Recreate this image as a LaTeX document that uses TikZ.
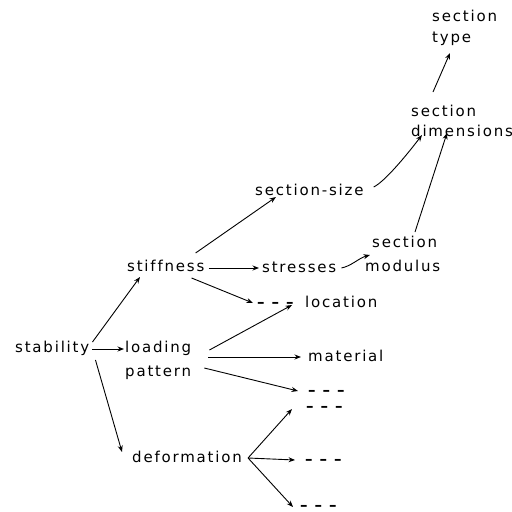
\documentclass[tikz,border=0pt]{standalone}
\usepackage{fontspec}
\setmainfont{DejaVu Sans}[LetterSpace=12,Ligatures=CommonOff]
\usetikzlibrary{arrows.meta,calc}
\begin{document}
\begin{tikzpicture}[x=1pt,y=-1pt,
  lbl/.style={anchor=west,inner sep=0pt,text height=8pt,text depth=0pt,font=\fontsize{15}{18}\selectfont},
  dsh/.style={lbl,font=\fontsize{15}{18}\selectfont\bfseries},
  arr/.style={-{Stealth[length=6.5pt,width=5pt]},line width=0.9pt}]
\useasboundingbox (0,0) rectangle (512,512);
% nodes
\node[lbl] (stab)     at (15,348)  {stability};
\node[lbl] (stiff)    at (127,267) {stiffness};
\node[lbl] (loadA)    at (125,348) {loading};
\node[lbl] (loadB)    at (125,372) {pattern};
\node[lbl] (deform)   at (132,458) {deformation};
\node[lbl] (secsize)  at (255,191) {section-size};
\node[lbl] (stress)   at (262,268) {stresses};
\node[dsh] (dashL)    at (257,303) {– – –};
\node[lbl] (loc)      at (305,303) {location};
\node[lbl] (mat)      at (308,357) {material};
\node[dsh] (d1)       at (308,391) {– – –};
\node[dsh] (d2)       at (306,407) {– – –};
\node[dsh] (d3)       at (305,460) {– – –};
\node[dsh] (d4)       at (300,506) {– – –};
\node[lbl] (secmodA)  at (372,243) {section};
\node[lbl] (secmodB)  at (365,267) {modulus};
\node[lbl] (secdimA)  at (411,112) {section};
\node[lbl] (secdimB)  at (411,132) {dimensions};
\node[lbl] (sectypeA) at (432,17)  {section};
\node[lbl] (sectypeB) at (432,38)  {type};
% connectors
\draw[arr] ($(stab.east)+(3,-6)$) -- ($(stiff.west)+(13,10)$);
\draw[arr] ($(stab.east)+(3,1)$) -- ($(loadA.west)+(-1,1)$);
\draw[arr] ($(stab.east)+(6,12)$) -- ($(deform.west)+(-10,-6)$);
\draw[arr] ($(stiff.east)+(-9,-14)$) -- ($(secsize.west)+(21,6)$);
\draw[arr] ($(stiff.east)+(4,1)$) -- ($(stress.west)+(-3,0)$);
\draw[arr] ($(stiff.east)+(-13,11)$) -- ($(dashL.west)+(-4,0)$);
\draw[arr] ($(loadA.east)+(18,2)$) -- ($(loc.west)+(-13,2)$);
\draw[arr] ($(loadA.east)+(17,9)$) -- ($(mat.west)+(-7,0)$);
\draw[arr] ($(loadB.east)+(13,-4)$) -- ($(d1.west)+(-10,0)$);
\draw[arr] ($(deform.east)+(6,0)$) -- ($(d2.west)+(-14,2)$);
\draw[arr] ($(deform.east)+(6,0)$) -- ($(d3.west)+(-10,0)$);
\draw[arr] ($(deform.east)+(6,0)$) -- ($(d4.west)+(-7,1)$);
\draw[arr] ($(stress.east)+(5,0)$) .. controls ($(stress.east)+(15,-2)$) and ($(secmodB.west)+(-6,-9)$) .. ($(secmodB.west)+(5,-12)$);
\draw[arr] ($(secsize.east)+(10,-4)$) .. controls ($(secsize.east)+(22,-10)$) and ($(secdimB.west)+(-2,20)$) .. ($(secdimB.west)+(11,3)$);
\draw[arr] ($(secmodA.west)+(43,-11)$) -- ($(secdimB.west)+(36,1)$);
\draw[arr] ($(secdimA.west)+(22,-20)$) -- ($(sectypeB.west)+(18,15)$);
\end{tikzpicture}
\end{document}
